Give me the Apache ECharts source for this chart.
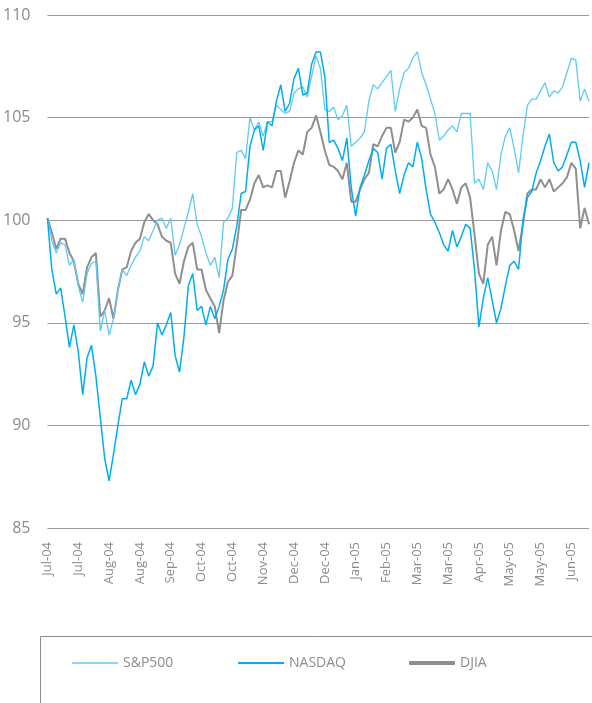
<!DOCTYPE html>
<html>
<head>
<meta charset="utf-8">
<script src="https://cdn.jsdelivr.net/npm/echarts@6/dist/echarts.min.js"></script>
<style>
  html, body { margin: 0; padding: 0; background: #fff; }
  #chart { width: 592px; height: 703px; }
</style>
</head>
<body>
<div id="chart"></div>
<script>
// one label every 7 points (roughly every 14 trading days)
var tickLabels = ['Jul-04', 'Jul-04', 'Aug-04', 'Aug-04', 'Sep-04', 'Oct-04', 'Oct-04', 'Nov-04', 'Dec-04',
  'Dec-04', 'Jan-05', 'Feb-05', 'Mar-05', 'Mar-05', 'Apr-05', 'May-05', 'May-05', 'Jun-05']

var sp500 = [
  100.1, 99.0, 98.4, 98.9, 98.8, 97.8, 98.1, 96.8, 96.0, 97.4,
  97.9, 98.0, 94.6, 95.6, 94.4, 95.2, 96.6, 97.6, 97.3, 97.8,
  98.2, 98.5, 99.2, 99.0, 99.5, 100.0, 100.1, 99.6, 100.1, 98.3,
  98.8, 99.6, 100.4, 101.3, 99.8, 99.2, 98.4, 97.8, 98.2, 97.2,
  99.9, 100.1, 100.6, 103.3, 103.4, 103.0, 105.0, 104.4, 104.8, 104.1,
  104.8, 104.8, 105.6, 105.4, 105.2, 105.3, 106.2, 106.4, 106.5, 106.0,
  107.0, 108.0, 107.4, 105.4, 105.3, 105.5, 104.9, 105.1, 105.6, 103.6,
  103.8, 104.0, 104.3, 105.8, 106.6, 106.4, 106.7, 107.0, 107.3, 105.3,
  106.4, 107.2, 107.4, 107.9, 108.2, 107.2, 106.6, 105.9, 105.2, 103.9,
  104.1, 104.4, 104.6, 104.3, 105.2, 105.2, 105.2, 101.8, 102.0, 101.5,
  102.8, 102.4, 101.5, 103.2, 104.1, 104.5, 103.5, 102.3, 104.1, 105.6,
  105.9, 105.9, 106.3, 106.7, 106.0, 106.3, 106.2, 106.5, 107.2, 107.9,
  107.8, 105.8, 106.4, 105.8
]

var nasdaq = [
  100.1, 97.6, 96.4, 96.7, 95.3, 93.8, 94.9, 93.6, 91.5, 93.3,
  93.9, 92.4, 90.4, 88.4, 87.3, 88.6, 90.0, 91.3, 91.3, 92.2,
  91.5, 92.0, 93.1, 92.4, 92.9, 95.0, 94.4, 94.9, 95.5, 93.4,
  92.6, 94.3, 96.8, 97.4, 95.6, 95.8, 94.9, 95.8, 95.2, 95.8,
  96.6, 98.1, 98.6, 99.7, 101.3, 101.4, 103.6, 104.4, 104.6, 103.4,
  104.8, 104.6, 105.8, 106.6, 105.3, 105.7, 106.9, 107.4, 106.1, 106.2,
  107.6, 108.2, 108.2, 107.0, 103.8, 103.9, 103.5, 102.9, 104.0, 101.6,
  100.2, 101.6, 102.2, 102.9, 103.5, 103.3, 102.0, 103.5, 103.7, 102.4,
  101.3, 102.2, 102.8, 102.6, 103.8, 103.0, 101.5, 100.3, 99.9, 99.4,
  98.8, 98.5, 99.5, 98.7, 99.2, 99.8, 99.6, 97.6, 94.8, 96.2,
  97.2, 96.1, 95.0, 95.7, 96.8, 97.8, 98.0, 97.6, 100.0, 101.1,
  101.4, 102.3, 102.9, 103.6, 104.2, 102.8, 102.4, 102.6, 103.2, 103.8,
  103.8, 102.9, 101.6, 102.8
]

var djia = [
  100.1, 99.4, 98.6, 99.1, 99.1, 98.4, 98.0, 96.9, 96.4, 97.7,
  98.2, 98.4, 95.3, 95.6, 96.2, 95.2, 96.6, 97.6, 97.7, 98.5,
  98.9, 99.1, 99.9, 100.3, 100.0, 99.8, 99.2, 99.0, 98.9, 97.4,
  96.9, 98.0, 98.7, 98.9, 97.6, 97.6, 96.6, 96.2, 95.8, 94.5,
  96.1, 97.0, 97.3, 98.8, 100.5, 100.5, 101.0, 101.8, 102.2, 101.6,
  101.7, 101.6, 102.4, 102.4, 101.1, 101.9, 102.8, 103.4, 103.2, 104.3,
  104.5, 105.1, 104.3, 103.4, 102.7, 102.6, 102.4, 102.0, 102.8, 100.9,
  100.9, 101.5, 102.0, 102.3, 103.7, 103.6, 104.1, 104.5, 104.5, 103.3,
  103.8, 104.9, 104.8, 105.0, 105.4, 104.6, 104.5, 103.2, 102.6, 101.3,
  101.5, 102.0, 101.5, 100.8, 101.6, 101.8, 101.1, 99.3, 97.4, 96.9,
  98.8, 99.2, 97.8, 99.5, 100.4, 100.3, 99.5, 98.5, 99.8, 101.3,
  101.5, 101.5, 102.0, 101.6, 102.0, 101.4, 101.6, 101.8, 102.1, 102.8,
  102.5, 99.6, 100.6, 99.8
]

var categories = sp500.map(function (v, i) {
  return i % 7 === 0 ? tickLabels[i / 7] : ''
})

var textColor = '#8c8c8c'
var font = 'Open Sans'

function legendFor(name, left, thickness) {
  return {
    data: [{ name: name, icon: 'roundRect' }],
    left: left,
    top: 651,
    itemWidth: 46,
    itemHeight: thickness,
    itemGap: 6,
    textStyle: { color: textColor, fontSize: 14, fontFamily: font }
  }
}

var chart = echarts.init(document.getElementById('chart'))
chart.setOption({
  animation: false,
  grid: {
    left: 47,
    right: 3,
    top: 15,
    bottom: 175
  },
  xAxis: {
    type: 'category',
    data: categories,
    boundaryGap: false,
    axisLine: { show: false },
    axisTick: { show: false },
    axisLabel: {
      interval: 6,
      rotate: 90,
      margin: 14,
      color: textColor,
      fontSize: 13,
      fontFamily: font
    },
    splitLine: { show: false }
  },
  yAxis: {
    type: 'value',
    min: 85,
    max: 110,
    interval: 5,
    axisLine: { show: false },
    axisTick: { show: false },
    axisLabel: {
      margin: 17,
      color: textColor,
      fontSize: 16,
      fontFamily: font
    },
    splitLine: {
      lineStyle: { color: '#999999', width: 1 }
    }
  },
  legend: [
    legendFor('S&P500', 67, 1.3),
    legendFor('NASDAQ', 233, 2),
    legendFor('DJIA', 404, 4)
  ],
  graphic: [{
    type: 'rect',
    silent: true,
    shape: { x: 40.5, y: 636.5, width: 600, height: 100 },
    style: { fill: 'none', stroke: '#8c8c8c', lineWidth: 1 }
  }],
  series: [
    {
      name: 'DJIA',
      type: 'line',
      data: djia,
      symbol: 'none',
      z: 1,
      lineStyle: { color: '#8f8f8f', width: 2 },
      itemStyle: { color: '#8f8f8f' }
    },
    {
      name: 'S&P500',
      type: 'line',
      data: sp500,
      symbol: 'none',
      z: 2,
      lineStyle: { color: '#5ccbf5', width: 1.3 },
      itemStyle: { color: '#5ccbf5' }
    },
    {
      name: 'NASDAQ',
      type: 'line',
      data: nasdaq,
      symbol: 'none',
      z: 3,
      lineStyle: { color: '#00aeef', width: 1.5 },
      itemStyle: { color: '#00aeef' }
    }
  ]
})
</script>
</body>
</html>
